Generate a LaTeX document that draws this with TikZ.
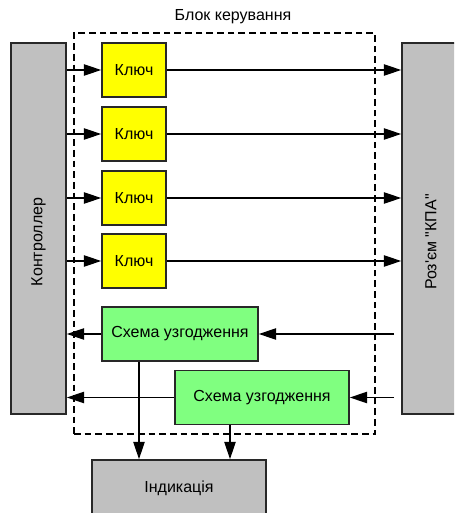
\documentclass[tikz,border=0pt]{standalone}
\usepackage{fontspec}
\setmainfont{Liberation Sans}
\usetikzlibrary{arrows.meta,calc}

\definecolor{boxgray}{RGB}{192,192,192}
\definecolor{keyyellow}{RGB}{255,255,0}
\definecolor{matchgreen}{RGB}{128,255,128}
\definecolor{edgedark}{RGB}{40,40,40}

\tikzset{
  unitbox/.style={draw=edgedark,line width=1.2pt,inner sep=0pt,font=\fontsize{12}{14}\selectfont},
  sidebox/.style={unitbox,fill=boxgray,minimum width=41.25pt,minimum height=278.25pt},
  keybox/.style={unitbox,fill=keyyellow,minimum width=48pt,minimum height=40.5pt},
  matchbox/.style={unitbox,fill=matchgreen,minimum height=40.5pt},
  sig/.style={draw=black,line width=1pt,-{Triangle[length=13pt,width=8.5pt]}}
}

\begin{document}
\begin{tikzpicture}[x=0.75pt,y=0.75pt,yscale=-1,xscale=1]
            \clip (0,0) rectangle (454,513);

            % Frame of the control block
            \node [draw=black,dash pattern={on 5pt off 3pt},line width=0.9pt,minimum width=225.75pt,minimum height=300.75pt] (blk) at (224.5,233.5) {};
            % Text Node
            \node [font=\fontsize{12}{14}\selectfont] (blktitle) at (233,17) {Блок керування};

            %Shape: Controller and connector
            \node [sidebox] (ctrl) at (38.5,228.5) {};
            \node [sidebox,minimum width=43.5pt] (kpa) at (431,228.5) {};
            \node [rotate=90,font=\fontsize{12}{14}\selectfont] (ctrltxt) at (38.5,242) {Контроллер};
            \node [rotate=90,font=\fontsize{12}{14}\selectfont] (kpatxt) at (431,242) {Роз\textquotesingle єм \textquotedbl КПА\textquotedbl};

            %Shape: Keys
            \node [keybox] (k1) at (134,70) {Ключ};
            \node [keybox] (k2) at (134,134) {Ключ};
            \node [keybox] (k3) at (134,198) {Ключ};
            \node [keybox] (k4) at (134,261) {Ключ};

            %Shape: Matching circuits
            \node [matchbox,minimum width=117pt] (m1) at (180,334) {Схема узгодження};
            \node [matchbox,minimum width=130.5pt] (m2) at (262,397.5) {Схема узгодження};

            %Shape: Indication
            \node [unitbox,fill=boxgray,minimum width=130.5pt,minimum height=42pt] (ind) at (179,488) {Індикація};

            %Straight Lines: controller -> keys -> connector
            \foreach \k in {k1,k2,k3,k4} {
              \draw [sig] (ctrl.east |- \k.west) -- (\k.west);
              \draw [sig] (\k.east) -- (kpa.west |- \k.east);
            }

            %Straight Lines: connector -> matching -> controller
            \draw [sig] ($(kpa.west |- m1.east)+(-7,0)$) -- (m1.east);
            \draw [sig] (m1.west) -- (ctrl.east |- m1.west);
            \draw [sig] ($(kpa.west |- m2.east)+(-7,0)$) -- (m2.east);
            \draw [sig] (m2.west) -- (ctrl.east |- m2.west);

            %Straight Lines: matching -> indication
            \draw [sig] ($(m1.south)+(-41,0)$) coordinate (d1) -- (d1 |- ind.north);
            \draw [sig] ($(m2.south)+(-32,0)$) coordinate (d2) -- (d2 |- ind.north);

\end{tikzpicture}
\end{document}
